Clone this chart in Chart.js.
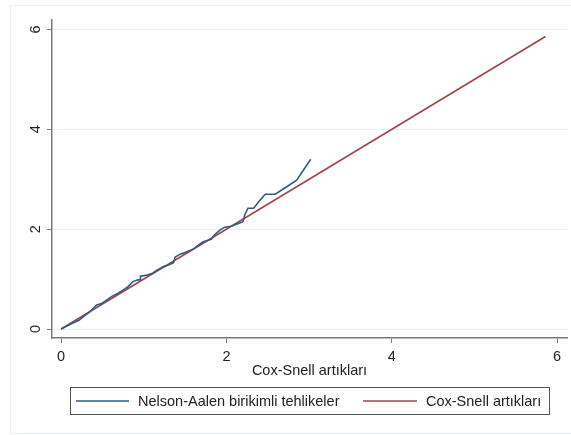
<!DOCTYPE html>
<html>
<head>
<meta charset="utf-8">
<script src="https://cdn.jsdelivr.net/npm/chart.js@4"></script>
<style>
  html, body { margin: 0; padding: 0; background: #ffffff; }
  #wrap { position: relative; width: 571px; height: 435px; }
</style>
</head>
<body>
<div id="wrap"><canvas id="chart" width="571" height="435"></canvas></div>
<script>
// =====================================
// DATA
// =====================================
const naX = [0, 0.13, 0.22, 0.27, 0.35, 0.43, 0.49, 0.55, 0.61, 0.67, 0.75, 0.81, 0.87, 0.92, 0.955, 0.96,
             1.04, 1.10, 1.16, 1.24, 1.30, 1.36, 1.38, 1.44, 1.48, 1.52, 1.60, 1.66, 1.72, 1.78, 1.82, 1.84,
             1.92, 1.98, 2.06, 2.12, 2.20, 2.22, 2.26, 2.33, 2.39, 2.47, 2.59, 2.73, 2.85, 3.02];
const naY = [0, 0.11, 0.18, 0.25, 0.35, 0.48, 0.51, 0.58, 0.65, 0.70, 0.78, 0.85, 0.95, 0.98, 0.99, 1.06,
             1.08, 1.11, 1.18, 1.25, 1.28, 1.33, 1.44, 1.50, 1.52, 1.55, 1.60, 1.68, 1.75, 1.78, 1.80, 1.86,
             1.98, 2.04, 2.06, 2.10, 2.15, 2.28, 2.42, 2.42, 2.55, 2.70, 2.70, 2.85, 2.98, 3.40];
const csX = [0, 5.86];
const csY = [0, 5.86];

const xTicks = [0, 2, 4, 6];
const yTicks = [0, 2, 4, 6];

const labels = ["Nelson-Aalen birikimli tehlikeler", "Cox-Snell artıkları"];
const xTitle = "Cox-Snell artıkları";

// Stata-ish colors
const COLORS = {
    na: "#2e5b86",
    cs: "#a2444b",
    axis: "#7a7a7a",
    grid: "#eaf1f1",
    text: "#222222"
};

const FONT = "'Liberation Sans', Arial, sans-serif";
const FSIZE = 14.5;

// =====================================
// PLUGINS: outer frame + boxed legend
// =====================================
const framePlugin = {
    id: "frame",
    beforeDraw(chart) {
        const ctx = chart.ctx;
        ctx.save();
        ctx.strokeStyle = "#e6eeee";
        ctx.lineWidth = 1;
        ctx.strokeRect(10.5, 5.5, 570, 428);
        ctx.restore();
    }
};

const legendPlugin = {
    id: "boxLegend",
    afterDraw(chart) {
        const ctx = chart.ctx;
        ctx.save();
        ctx.strokeStyle = "#555555";
        ctx.lineWidth = 1;
        ctx.strokeRect(70.5, 387.5, 479, 27);

        const items = [
            { x0: 76, x1: 129, tx: 138, color: COLORS.na, text: labels[0] },
            { x0: 363, x1: 417, tx: 426, color: COLORS.cs, text: labels[1] }
        ];
        ctx.font = FSIZE + "px " + FONT;
        ctx.textBaseline = "middle";
        ctx.textAlign = "left";
        items.forEach(it => {
            ctx.strokeStyle = it.color;
            ctx.lineWidth = 1.5;
            ctx.beginPath();
            ctx.moveTo(it.x0, 401);
            ctx.lineTo(it.x1, 401);
            ctx.stroke();
            ctx.fillStyle = COLORS.text;
            ctx.fillText(it.text, it.tx, 401.5);
        });
        ctx.restore();
    }
};

// =====================================
// CHART
// =====================================
const ctx = document.getElementById("chart").getContext("2d");

new Chart(ctx, {
    type: "line",
    data: {
        datasets: [
            {
                label: labels[0],
                data: naX.map((x, i) => ({ x: x, y: naY[i] })),
                borderColor: COLORS.na,
                borderWidth: 1.6,
                pointRadius: 0,
                tension: 0,
                fill: false
            },
            {
                label: labels[1],
                data: csX.map((x, i) => ({ x: x, y: csY[i] })),
                borderColor: COLORS.cs,
                borderWidth: 1.6,
                pointRadius: 0,
                tension: 0,
                fill: false
            }
        ]
    },
    options: {
        responsive: false,
        animation: false,
        layout: { padding: { left: 0, top: 20, right: 4, bottom: 0 } },
        plugins: {
            legend: { display: false },
            tooltip: { enabled: false }
        },
        scales: {
            x: {
                type: "linear",
                min: -0.11,
                max: 6.12,
                afterBuildTicks: s => { s.ticks = xTicks.map(v => ({ value: v })); },
                afterFit: s => { s.height = 97; },
                border: { color: COLORS.axis, width: 1.5 },
                grid: {
                    drawOnChartArea: false,
                    tickLength: 5,
                    tickColor: COLORS.axis
                },
                ticks: {
                    color: COLORS.text,
                    font: { family: FONT, size: FSIZE },
                    padding: 5,
                    maxRotation: 0
                },
                title: {
                    display: true,
                    text: xTitle,
                    color: COLORS.text,
                    font: { family: FONT, size: FSIZE },
                    padding: { top: 0, bottom: 55.5 }
                }
            },
            y: {
                type: "linear",
                min: -0.18,
                max: 6.19,
                afterBuildTicks: s => { s.ticks = yTicks.map(v => ({ value: v })); },
                afterFit: s => { s.width = 52; },
                border: { color: COLORS.axis, width: 1.5 },
                grid: {
                    color: COLORS.grid,
                    lineWidth: 1,
                    tickLength: 5,
                    tickColor: COLORS.axis
                },
                ticks: {
                    color: COLORS.text,
                    font: { family: FONT, size: FSIZE },
                    minRotation: 90,
                    maxRotation: 90,
                    crossAlign: "center",
                    padding: 7
                }
            }
        }
    },
    plugins: [framePlugin, legendPlugin]
});
</script>
</body>
</html>
